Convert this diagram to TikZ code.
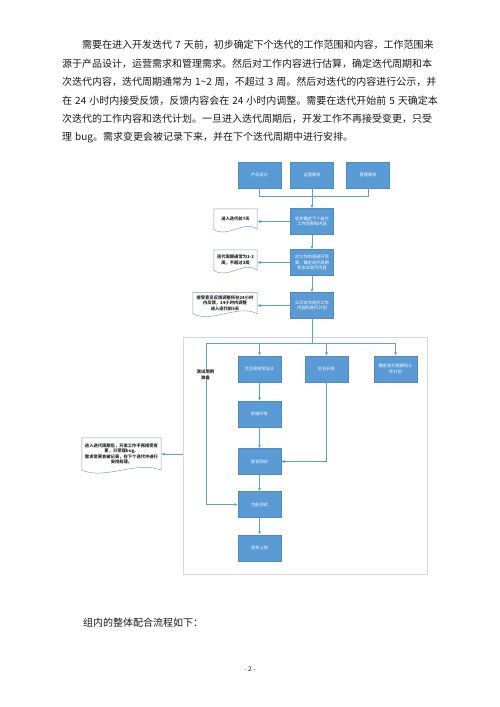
\documentclass[tikz,border=0pt]{standalone}
\usepackage{fontspec}
\setmainfont{Noto Sans CJK SC}
\XeTeXlinebreaklocale "zh"
\XeTeXlinebreakskip=0pt
\usetikzlibrary{arrows.meta,calc}
\definecolor{BOXFILL}{RGB}{91,155,213}
\definecolor{BOXEDGE}{RGB}{80,138,196}
\definecolor{LINKC}{RGB}{96,158,214}
\definecolor{FRAMEC}{RGB}{212,217,224}
\definecolor{DOCLINE}{RGB}{122,160,204}
% one justified line of the paragraph
\newcommand{\parline}[2]{{\XeTeXlinebreakskip=0pt plus 3pt\makebox[#1][s]{#2}}}
% outline of a note with a wavy bottom
\newcommand{\docframe}[1]{%
	\draw[DOCEDGE] (#1.north west) -- (#1.north east) -- (#1.south east)
		.. controls ($(#1.south west)!0.7!(#1.south east)+(0,-10)$)
		and ($(#1.south west)!0.3!(#1.south east)+(0,10)$) .. (#1.south west) -- cycle;}
\tikzset{
BOX/.style ={draw=BOXEDGE,fill=BOXFILL,text=white,line width=0.5pt,minimum width=43pt,minimum height=26pt,
	text width=37pt,align=flush center,inner sep=1pt,font=\fontsize{4.2}{5.4}\selectfont},
LINK/.style ={draw=LINKC,line width=0.9pt},
ARROW/.style ={LINK,-{Latex[length=3.5pt,width=3.2pt]}},
FRAME/.style ={draw=FRAMEC,line width=0.8pt},
PARA/.style ={inner sep=0pt,font=\fontsize{10}{12}\selectfont,text=black!90},
LABEL/.style ={fill=white,inner sep=0.6pt,align=flush center,font=\fontsize{4.4}{5.4}\selectfont\bfseries,text=black!85},
DOC/.style ={font=\fontsize{4.3}{5.4}\selectfont\bfseries,text=black!85,align=flush center,
	inner xsep=2pt,inner ysep=3pt},
DOCEDGE/.style ={draw=DOCLINE,line width=0.5pt},
}
\begin{document}
\begin{tikzpicture}[x=1pt,y=-1pt]
	\useasboundingbox (0,0) rectangle (500,707);
	%Text above
	\node[PARA,anchor=west] (par1) at (82,45) {\parline{363pt}{需要在进入开发迭代\kern3pt 7\kern3pt 天前，初步确定下个迭代的工作范围和内容，工作范围来}};
	\node[PARA,anchor=west] (par2) at (62,63.5) {\parline{383pt}{源于产品设计，运营需求和管理需求。然后对工作内容进行估算，确定迭代周期和本}};
	\node[PARA,anchor=west] (par3) at (62,82) {\parline{383pt}{次迭代内容，迭代周期通常为\kern3pt 1\textasciitilde 2\kern3pt 周，不超过\kern3pt 3\kern3pt 周。然后对迭代的内容进行公示，并}};
	\node[PARA,anchor=west] (par4) at (62,100.5) {\parline{383pt}{在\kern3pt 24\kern3pt 小时内接受反馈，反馈内容会在\kern3pt 24\kern3pt 小时内调整。需要在迭代开始前\kern3pt 5\kern3pt 天确定本}};
	\node[PARA,anchor=west] (par5) at (62,119) {\parline{383pt}{次迭代的工作内容和迭代计划。一旦进入迭代周期后，开发工作不再接受变更，只受}};
	\node[PARA,anchor=west] (par6) at (62,137.5) {理\kern3pt bug。需求变更会被记录下来，并在下个迭代周期中进行安排。};
	%Sources
	\node[BOX] (prod) at (259.5,175) {产品设计};
	\node[BOX] (ops) at (312,175) {运营需求};
	\node[BOX] (mgmt) at (368,175) {管理需求};
	\coordinate (join) at (312,196);
	\draw[LINK] (prod.south) |- (join);
	\draw[LINK] (mgmt.south) |- (join);
	%Planning
	\node[BOX] (scope) at (312,221.5) {初步确定下个迭代工作范围和内容};
	\node[BOX] (est) at (312,262.5) {对工作内容进行估算，确定迭代周期和本次迭代内容};
	\node[BOX] (plan) at (312,305.5) {公示本次迭代工作内容和迭代计划};
	\draw[ARROW] (ops.south) -- (scope.north);
	\draw[ARROW] (scope.south) -- (est.north);
	\draw[ARROW] (est.south) -- (plan.north);
	%Notes
	\node[DOC,text width=39pt,minimum height=20pt] (d1) at (235.5,219) {进入迭代前7天};
	\node[DOC,text width=39pt,minimum height=20pt] (d2) at (235.5,260) {迭代周期通常为1-2周，不超过3周};
	\node[DOC,text width=60pt,minimum height=20pt] (d3) at (225,303) {接受意见反馈调整所在24小时内反馈，24小时内调整\\进入迭代前5天};
	\docframe{d1}
	\docframe{d2}
	\docframe{d3}
	\draw[ARROW] (scope.west) -- (scope.west -| d1.east);
	\draw[ARROW] (est.west) -- (est.west -| d2.east);
	\draw[ARROW] (plan.west) -- (plan.west -| d3.east);
	%Iteration
	\node[FRAME,minimum width=244pt,minimum height=237pt] (frame) at (305,455.5) {};
	\node[BOX] (design) at (259.5,369) {交互和视觉设计};
	\node[BOX] (backend) at (326.5,369) {后台开发};
	\node[BOX] (testplan) at (395.5,369) {确定迭代周期和工作计划};
	\node[BOX] (frontend) at (259.5,414) {前端开发};
	\node[BOX] (integ) at (259.5,461.5) {联调测试};
	\node[BOX] (ftest) at (259.5,504.5) {功能测试};
	\node[BOX] (release) at (259.5,548) {发布上线};
	\coordinate (split) at (312,343);
	\coordinate (tl) at (206,343);
	\coordinate (tr) at (395.5,343);
	\draw[LINK] (plan.south) -- (split);
	\draw[LINK] (tl) -- (tr);
	\draw[ARROW] (design.north |- split) -- (design.north);
	\draw[ARROW] (backend.north |- split) -- (backend.north);
	\draw[ARROW] (testplan.north |- split) -- (testplan.north);
	\draw[ARROW] (tl) |- (ftest.west);
	\draw[ARROW] (design.south) -- (frontend.north);
	\draw[ARROW] (frontend.south) -- (integ.north);
	\draw[ARROW] (backend.south) |- (integ.east);
	\draw[ARROW] (integ.south) -- (ftest.north);
	\draw[ARROW] (ftest.south) -- (release.north);
	\node[LABEL] (tcase) at (205.5,375) {测试用例\\准备};
	\node[DOC,text width=75pt,minimum height=32pt] (d4) at (121.5,454) {进入迭代周期后，开发工作不再接受变更，只受理bug。\\需求变更会被记录，在下个迭代中进行安排处理。};
	\docframe{d4}
	\draw[ARROW] (frame.west |- d4) -- (d4.east);
	%Text below
	\node[PARA,anchor=west] (outro) at (83,623) {组内的整体配合流程如下：};
	\node[PARA,font=\fontsize{6.5}{8}\selectfont] (pnum) at (250,669) {- 2 -};
\end{tikzpicture}
\end{document}
